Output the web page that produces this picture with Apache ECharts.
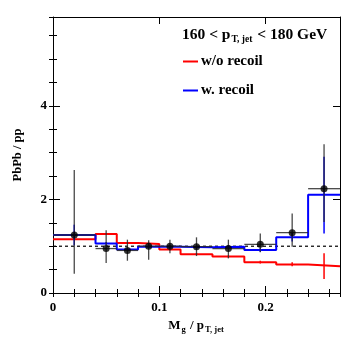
<!DOCTYPE html>
<html><head><meta charset="utf-8">
<script src="https://cdn.jsdelivr.net/npm/echarts@6/dist/echarts.min.js"></script>
<style>html,body{margin:0;padding:0;background:#fff}#c{width:357px;height:345px}</style>
</head><body><div id="c"></div>
<script>
const binEdges = [0, 0.04, 0.06, 0.08, 0.10, 0.12, 0.15, 0.18, 0.21, 0.24, 0.27];
const recoilOff = [1.15, 1.26, 1.07, 1.05, 0.93, 0.83, 0.78, 0.66, 0.61, 0.57];
const recoilOffLo = [1.13, 1.24, 1.05, 1.03, 0.91, 0.81, 0.76, 0.63, 0.57, 0.30];
const recoilOffHi = [1.17, 1.28, 1.09, 1.07, 0.95, 0.85, 0.80, 0.69, 0.66, 0.85];
const recoilOn = [1.24, 1.06, 0.93, 0.99, 0.99, 0.98, 0.99, 0.92, 1.19, 2.10];
const recoilOnLo = [1.02, 1.03, 0.90, 0.96, 0.96, 0.95, 0.96, 0.88, 1.10, 1.27];
const recoilOnHi = [1.46, 1.09, 0.96, 1.02, 1.02, 1.01, 1.02, 0.96, 1.28, 2.91];
const dataX = [0.02, 0.05, 0.07, 0.09, 0.11, 0.135, 0.165, 0.195, 0.225, 0.255];
const dataY = [1.24, 0.95, 0.91, 1.00, 1.00, 0.99, 0.95, 1.04, 1.29, 2.23];
const dataLo = [0.41, 0.64, 0.69, 0.71, 0.85, 0.79, 0.74, 0.87, 0.99, 1.52];
const dataHi = [2.63, 1.34, 1.14, 1.13, 1.14, 1.19, 1.14, 1.27, 1.70, 3.18];
const refLine = [[0, 1], [0.27, 1]];
const xTickLabels = ['0', '0.1', '0.2'];
const yTickLabels = ['0', '2', '4'];

const FONT = 'Liberation Serif';
const chart = echarts.init(document.getElementById('c'), null, {renderer: 'canvas'});

function stepData(vals) {
  return binEdges.map((e, i) => [e, vals[Math.min(i, vals.length - 1)]]);
}
function errData(vals, lo, hi, withX) {
  return vals.map((v, i) => [(binEdges[i] + binEdges[i + 1]) / 2, v, lo[i], hi[i], binEdges[i], binEdges[i + 1], withX ? 1 : 0]);
}
function errRender(color, width) {
  return function (params, api) {
    const x = api.value(0), lo = api.value(2), hi = api.value(3);
    const y = api.value(1);
    const p1 = api.coord([x, lo]), p2 = api.coord([x, hi]);
    const children = [{type: 'line', shape: {x1: p1[0], y1: p1[1], x2: p2[0], y2: p2[1]}, style: {stroke: color, lineWidth: width}}];
    if (api.value(6)) {
      const a = api.coord([api.value(4), y]), b = api.coord([api.value(5), y]);
      children.push({type: 'line', shape: {x1: a[0], y1: a[1], x2: b[0], y2: b[1]}, style: {stroke: color, lineWidth: width}});
    }
    return {type: 'group', children};
  };
}
const axisBase = {
  type: 'value',
  axisLine: {show: true, onZero: false, lineStyle: {color: '#000', width: 1}},
  splitLine: {show: false},
};
const gridRect = {left: 53, right: 17, top: 17, bottom: 52};
const labelStyle = {color: '#000', fontFamily: FONT, fontWeight: 'bold', fontSize: 13};

const option = {
  animation: false,
  backgroundColor: '#fff',
  grid: [Object.assign({}, gridRect), Object.assign({}, gridRect)],
  title: {
    text: '{a|160 < p}{s|T, jet}{a| < 180 GeV}',
    left: 177, top: 20,
    textStyle: {rich: {
      a: {fontFamily: FONT, fontWeight: 'bold', fontSize: 15.5, color: '#000'},
      s: {fontFamily: FONT, fontWeight: 'bold', fontSize: 9.5, color: '#000', padding: [10, 1, 0, 1]}
    }}
  },
  legend: {
    orient: 'vertical', left: 178, top: 49, itemGap: 14,
    itemWidth: 15, itemHeight: 2,
    textStyle: {fontFamily: FONT, fontWeight: 'bold', fontSize: 15, color: '#000', padding: [0, 0, 0, -2]},
    data: [{name: 'w/o recoil', icon: 'rect'}, {name: 'w. recoil', icon: 'rect'}]
  },
  xAxis: [
    Object.assign({}, axisBase, {gridIndex: 0, position: 'bottom', min: 0, max: 0.27, interval: 0.1,
      axisTick: {show: true, inside: true, length: 7, lineStyle: {color: '#000'}},
      axisLabel: Object.assign({}, labelStyle, {margin: 8, showMaxLabel: false, formatter: (v) => xTickLabels[Math.round(v * 10)] || ''}),
      name: '{a|M}{s|g}{a| / p}{s|T, jet}', nameLocation: 'middle', nameGap: 21,
      nameTextStyle: {rich: {
        a: {fontFamily: FONT, fontWeight: 'bold', fontSize: 13, color: '#000'},
        s: {fontFamily: FONT, fontWeight: 'bold', fontSize: 8.5, color: '#000', padding: [8, 1, 0, 1]}
      }}}),
    Object.assign({}, axisBase, {gridIndex: 0, position: 'top', min: 0, max: 0.27, interval: 0.1,
      axisTick: {show: true, inside: true, length: 7, lineStyle: {color: '#000'}}, axisLabel: {show: false}}),
    Object.assign({}, axisBase, {gridIndex: 1, position: 'bottom', min: 0, max: 0.27, interval: 0.02,
      axisLine: {show: false}, axisTick: {show: true, inside: true, length: 4, lineStyle: {color: '#000'}}, axisLabel: {show: false}}),
    Object.assign({}, axisBase, {gridIndex: 1, position: 'top', min: 0, max: 0.27, interval: 0.02,
      axisLine: {show: false}, axisTick: {show: true, inside: true, length: 4, lineStyle: {color: '#000'}}, axisLabel: {show: false}})
  ],
  yAxis: [
    Object.assign({}, axisBase, {gridIndex: 0, position: 'left', min: 0, max: 5.9, interval: 2,
      axisTick: {show: true, inside: true, length: 7, lineStyle: {color: '#000'}},
      axisLabel: Object.assign({}, labelStyle, {margin: 6, showMaxLabel: false, formatter: (v) => yTickLabels[Math.round(v / 2)] || ''}),
      name: 'PbPb / pp', nameLocation: 'middle', nameGap: 29, nameRotate: 90,
      nameTextStyle: {fontFamily: FONT, fontWeight: 'bold', fontSize: 12.5, color: '#000'}}),
    Object.assign({}, axisBase, {gridIndex: 0, position: 'right', min: 0, max: 5.9, interval: 2,
      axisTick: {show: true, inside: true, length: 7, lineStyle: {color: '#000'}}, axisLabel: {show: false}}),
    Object.assign({}, axisBase, {gridIndex: 1, position: 'left', min: 0, max: 5.9, interval: 0.5,
      axisLine: {show: false}, axisTick: {show: true, inside: true, length: 4, lineStyle: {color: '#000'}}, axisLabel: {show: false}}),
    Object.assign({}, axisBase, {gridIndex: 1, position: 'right', min: 0, max: 5.9, interval: 0.5,
      axisLine: {show: false}, axisTick: {show: true, inside: true, length: 4, lineStyle: {color: '#000'}}, axisLabel: {show: false}})
  ],
  series: [
    {name: 'ref', type: 'line', xAxisIndex: 0, yAxisIndex: 0, data: refLine, symbol: 'none', silent: true, z: 1,
      lineStyle: {color: '#000', width: 1.2, type: [3, 3]}},
    {name: 'w/o recoil', type: 'line', step: 'end', xAxisIndex: 0, yAxisIndex: 0, data: stepData(recoilOff), symbol: 'none', z: 2,
      color: '#ff0000', lineStyle: {color: '#ff0000', width: 2}},
    {name: 'w. recoil', type: 'line', step: 'end', xAxisIndex: 0, yAxisIndex: 0, data: stepData(recoilOn), symbol: 'none', z: 3,
      color: '#0000ff', lineStyle: {color: '#0000ff', width: 2}},
    {name: 'offErr', type: 'custom', xAxisIndex: 0, yAxisIndex: 0, z: 2, data: errData(recoilOff, recoilOffLo, recoilOffHi, false),
      renderItem: errRender('#ff0000', 1.5), encode: {x: 0, y: 1}},
    {name: 'onErr', type: 'custom', xAxisIndex: 0, yAxisIndex: 0, z: 3, data: errData(recoilOn, recoilOnLo, recoilOnHi, false),
      renderItem: errRender('#0000ff', 1.5), encode: {x: 0, y: 1}},
    {name: 'dataErr', type: 'custom', xAxisIndex: 0, yAxisIndex: 0, z: 4,
      data: dataY.map((v, i) => [dataX[i], v, dataLo[i], dataHi[i], binEdges[i], binEdges[i + 1], 1]),
      renderItem: errRender('rgba(40,40,40,0.85)', 1.3), encode: {x: 0, y: 1}},
    {name: 'data', type: 'scatter', xAxisIndex: 0, yAxisIndex: 0, z: 5,
      data: dataY.map((v, i) => [dataX[i], v]), symbol: 'circle', symbolSize: 7,
      itemStyle: {color: '#000'}}
  ]
};
chart.setOption(option);
</script>
</body></html>
